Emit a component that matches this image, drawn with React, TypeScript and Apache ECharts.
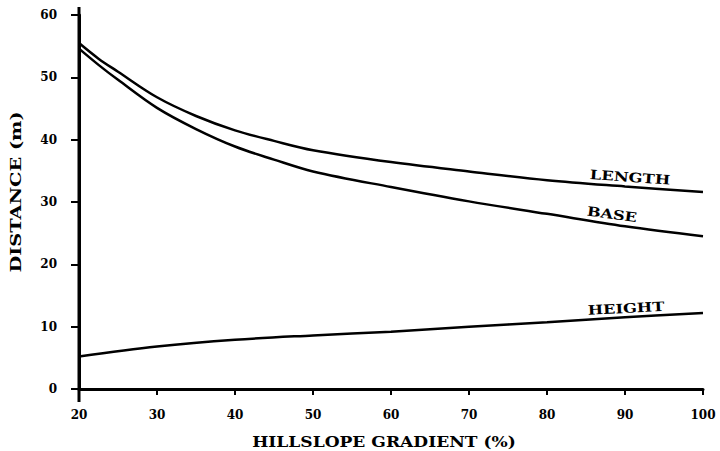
import React, { useEffect, useRef } from "react";
import * as echarts from "echarts";

const gradients = [20, 22.5, 25, 30, 35, 40, 45, 50, 60, 70, 80, 90, 100];
const lengthValues = [55.5, 53.0, 50.9, 46.8, 43.8, 41.5, 39.8, 38.3, 36.4, 34.9, 33.5, 32.5, 31.6];
const baseValues = [54.6, 52.0, 49.6, 45.1, 41.7, 38.9, 36.8, 34.9, 32.4, 30.1, 28.1, 26.1, 24.5];
const heightGradients = [20, 30, 40, 50, 60, 70, 80, 90, 100];
const heightValues = [5.2, 6.8, 7.9, 8.6, 9.2, 10.0, 10.7, 11.5, 12.2];

const xTitle = "HILLSLOPE GRADIENT (%)";
const yTitle = "DISTANCE (m)";
const curveNames = ["LENGTH", "BASE", "HEIGHT"];

const FONT = "'DejaVu Serif', 'Liberation Serif', serif";

export default function App() {
  const ref = useRef<HTMLDivElement>(null);
  useEffect(() => {
    if (!ref.current) return;
    const chart = echarts.init(ref.current, null, { renderer: "svg" });
    const mk = (xs: number[], ys: number[]) => xs.map((x, i) => [x, ys[i]]);
    const lineStyle = { color: "#000", width: 2.5 };
    const label = (text: string, x: number, y: number, rotation: number, scaleX: number) => ({
      type: "text", x, y, rotation, scaleX,
      style: { text, font: `bold 13px ${FONT}`, fill: "#000", textAlign: "center", textVerticalAlign: "middle" },
    });
    chart.setOption({
      animation: false,
      backgroundColor: "#fff",
      grid: { left: 79, right: 17, top: 15, bottom: 62 },
      xAxis: {
        type: "value",
        min: 20,
        max: 100,
        interval: 10,
        axisLine: { show: true, lineStyle: { color: "#000", width: 3 } },
        axisTick: { show: true, length: 6, lineStyle: { color: "#000", width: 2 } },
        axisLabel: { fontFamily: FONT, fontWeight: "bold", fontSize: 12, color: "#000", margin: 20 },
        splitLine: { show: false },
      },
      yAxis: {
        type: "value",
        min: 0,
        max: 60,
        interval: 10,
        axisLine: { show: true, lineStyle: { color: "#000", width: 3 } },
        axisTick: { show: true, length: 8, lineStyle: { color: "#000", width: 2 } },
        axisLabel: { fontFamily: FONT, fontWeight: "bold", fontSize: 12, color: "#000", margin: 22 },
        splitLine: { show: false },
      },
      series: [
        { name: curveNames[0], type: "line", smooth: 0.35, showSymbol: false, lineStyle, data: mk(gradients, lengthValues) },
        { name: curveNames[1], type: "line", smooth: 0.35, showSymbol: false, lineStyle, data: mk(gradients, baseValues) },
        { name: curveNames[2], type: "line", smooth: 0.35, showSymbol: false, lineStyle, data: mk(heightGradients, heightValues) },
      ],
      graphic: [
        {
          type: "text", x: 384, y: 442, scaleX: 1.22,
          style: { text: xTitle, font: `bold 14px ${FONT}`, fill: "#000", textAlign: "center", textVerticalAlign: "middle" },
        },
        {
          type: "text", x: 16, y: 192, rotation: Math.PI / 2, scaleX: 1.38,
          style: { text: yTitle, font: `bold 14px ${FONT}`, fill: "#000", textAlign: "center", textVerticalAlign: "middle" },
        },
        label(curveNames[0], 630, 177, -0.07, 1.26),
        label(curveNames[1], 612, 214, -0.13, 1.25),
        label(curveNames[2], 626, 308, 0.05, 1.25),
        { type: "line", shape: { x1: 79, y1: 7, x2: 79, y2: 402 }, style: { stroke: "#000", lineWidth: 3 } },
      ],
    });
    return () => chart.dispose();
  }, []);
  return <div ref={ref} style={{ width: 720, height: 451, position: "absolute", left: 0, top: 0 }} />;
}
